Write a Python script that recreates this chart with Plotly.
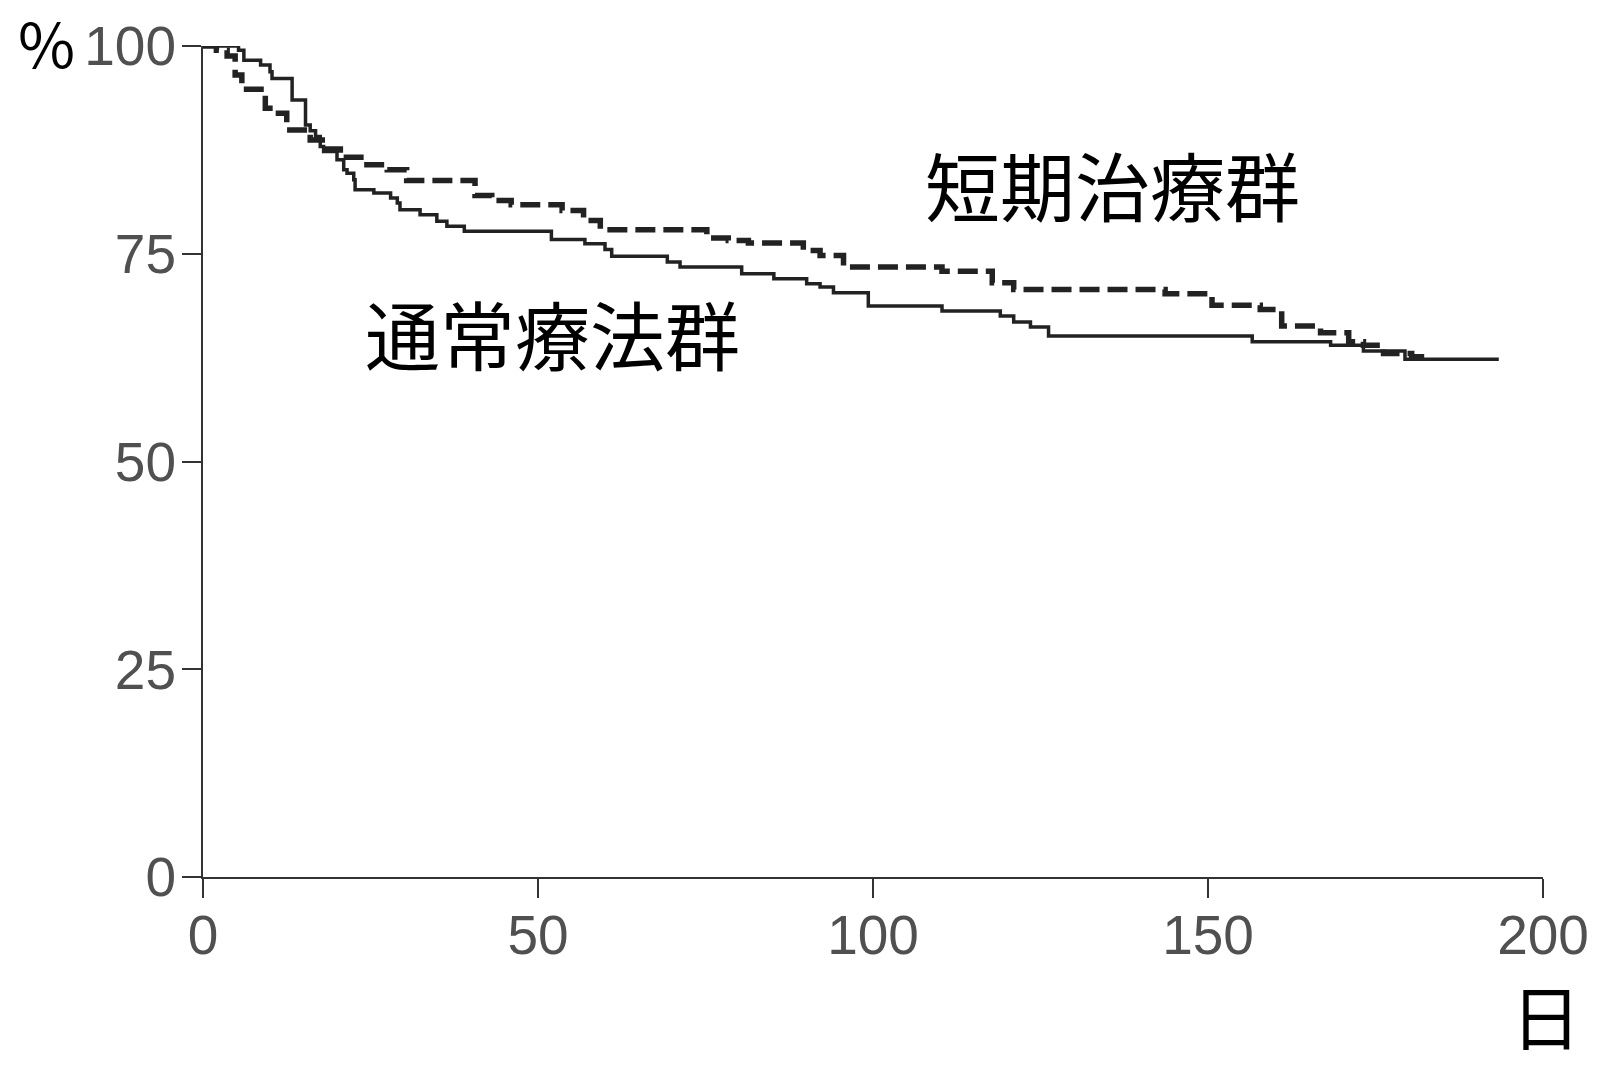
import plotly.graph_objects as go

# Kaplan-Meier style step data (days, %)
standard_days = [0, 5.3, 6.1, 8.6, 10, 10.3, 13.3, 15.3, 16, 16.8, 17.5, 18, 20, 21, 21.5, 22.5,
                 22.7, 25.5, 28, 29, 29.4, 32.4, 34.9, 36.4, 39, 52, 57, 60, 61, 69.3, 71.2,
                 80.4, 85.2, 90.1, 92.1, 94.1, 99.3, 110.3, 119, 121, 123.5, 126.2, 156.6,
                 168.3, 173.2, 179.4, 193.4]
standard_pct = [100, 99.5, 98.3, 97.7, 96.9, 96.1, 93.5, 90.5, 89.8, 89.1, 87.9, 87.3, 86.3, 85.1,
                84.7, 83.9, 82.7, 82.3, 81.7, 81.1, 80.3, 79.7, 78.9, 78.3, 77.7, 76.7, 76.2,
                75.5, 74.7, 74.0, 73.4, 72.6, 72.0, 71.4, 71.0, 70.3, 68.7, 68.1, 67.5, 66.8,
                66.2, 65.1, 64.4, 64.0, 63.3, 62.3, 62.3]

short_days = [0, 2, 3.6, 4.8, 5.8, 9.3, 10.8, 12.5, 16, 17.8, 20.5, 24, 27.5, 30.4, 40.6, 43.1,
              46, 53.6, 56.8, 59.3, 75.2, 78.4, 81.4, 89.6, 92.1, 95.6, 110.3, 117.8, 121,
              143.6, 150.6, 157.8, 161, 166.8, 171, 173.2, 176.2, 180.4, 183]
short_pct = [100, 99.5, 98.8, 96.5, 94.8, 92.5, 91.9, 89.9, 88.7, 87.6, 86.6, 85.7, 85.1, 83.8,
             82.0, 81.4, 80.9, 80.2, 79.0, 77.9, 76.9, 76.6, 76.3, 75.4, 74.8, 73.4, 72.9,
             71.5, 70.7, 70.2, 68.8, 68.3, 66.3, 65.5, 64.4, 64.0, 63.0, 62.6, 62.3]

x_ticks = [0, 50, 100, 150, 200]
y_ticks = [0, 25, 50, 75, 100]

fig = go.Figure()
fig.add_trace(go.Scatter(x=standard_days, y=standard_pct, mode="lines",
                         line=dict(shape="hv", color="#222222", width=3.5),
                         cliponaxis=False, showlegend=False))
fig.add_trace(go.Scatter(x=short_days, y=short_pct, mode="lines",
                         line=dict(shape="hv", color="#222222", width=5.5, dash="20px,8px"),
                         cliponaxis=False, showlegend=False))

tickfont = dict(family="Liberation Sans, Arial, sans-serif", size=55, color="#505050")
fig.update_layout(
    width=1607, height=1066,
    margin=dict(l=203, r=64, t=46, b=189),
    plot_bgcolor="white", paper_bgcolor="white",
    xaxis=dict(range=[0, 200], tickvals=x_ticks, showgrid=False, zeroline=False,
               showline=True, linecolor="#333333", linewidth=2,
               ticks="outside", ticklen=19, tickwidth=2, tickcolor="#333333",
               tickfont=tickfont, ticklabelstandoff=-10, automargin=False),
    yaxis=dict(range=[0, 100], tickvals=y_ticks, showgrid=False, zeroline=False,
               showline=True, linecolor="#333333", linewidth=2,
               ticks="outside", ticklen=19, tickwidth=2, tickcolor="#333333",
               tickfont=tickfont, ticklabelstandoff=-5, automargin=False),
)

cjk = "Noto Sans CJK JP"
fig.add_annotation(x=135.7, y=83.4, xref="x", yref="y", text="短期治療群", showarrow=False,
                   xanchor="center", yanchor="middle",
                   font=dict(family=cjk, size=75, color="black"))
fig.add_annotation(x=52.1, y=65.5, xref="x", yref="y", text="通常療法群", showarrow=False,
                   xanchor="center", yanchor="middle",
                   font=dict(family=cjk, size=75, color="black"))
fig.add_annotation(x=-0.117, y=1.006, xref="paper", yref="paper", text="%", showarrow=False,
                   xanchor="center", yanchor="middle",
                   font=dict(family=cjk, size=62, color="black"))
fig.add_annotation(x=1.0025, y=-0.165, xref="paper", yref="paper", text="日", showarrow=False,
                   xanchor="center", yanchor="middle",
                   font=dict(family=cjk, size=70, color="black"))

fig.write_html("out.html", post_script="document.body.style.margin='0';",
               config={"displayModeBar": False})
